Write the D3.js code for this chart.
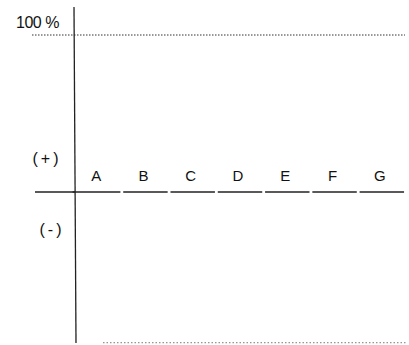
<!DOCTYPE html>
<html>
<head>
<meta charset="utf-8">
<script src="https://cdn.jsdelivr.net/npm/d3@7"></script>
<style>
  body { margin: 0; background: #fff; }
  text { font-family: "Liberation Sans", Arial, sans-serif; fill: #111; }
</style>
</head>
<body>
<div id="chart"></div>
<script>
const FRAME_WIDTH = 409;
const FRAME_HEIGHT = 345;
const MARGINS = {left: 75, right: 4, top: 35, bottom: 153};

// categories along the zero line
const categories = ["A", "B", "C", "D", "E", "F", "G"];
// percent levels for the reference lines
const topLevel = 100;
const bottomLevel = -96;
const topLabel = "100 %";
// sign labels on the left side
const signLabels = ["(+)", "(-)"];
const signValues = [21, -24];

const SVG = d3.select("#chart")
  .append("svg")
    .attr("width", FRAME_WIDTH)
    .attr("height", FRAME_HEIGHT);

// x: one band for each category
const x = d3.scaleBand()
  .domain(categories)
  .range([MARGINS.left, FRAME_WIDTH - MARGINS.right])
  .paddingInner(0.06)
  .paddingOuter(0.02);

// y: percent, zero line at 192
const y = d3.scaleLinear()
  .domain([0, topLevel])
  .range([FRAME_HEIGHT - MARGINS.bottom, MARGINS.top]);

// dotted 100% line
SVG.append("line")
  .attr("x1", 32).attr("x2", FRAME_WIDTH - 4)
  .attr("y1", y(topLevel)).attr("y2", y(topLevel))
  .attr("stroke", "#333")
  .attr("stroke-width", 1)
  .attr("stroke-dasharray", "1.5,1.5");

// dotted bottom line
SVG.append("line")
  .attr("x1", 103).attr("x2", FRAME_WIDTH - 2)
  .attr("y1", y(bottomLevel)).attr("y2", y(bottomLevel))
  .attr("stroke", "#555")
  .attr("stroke-width", 0.8)
  .attr("stroke-dasharray", "1.5,2");

// zero line, left stub before the vertical axis
SVG.append("line")
  .attr("x1", 35).attr("x2", MARGINS.left)
  .attr("y1", y(0)).attr("y2", y(0))
  .attr("stroke", "#222")
  .attr("stroke-width", 1.3);

// zero line split into one segment per category
SVG.append("g")
  .selectAll("line")
  .data(categories)
  .enter()
  .append("line")
    .attr("x1", (d) => x(d) - (d == "A" ? x.step() * 0.07 : 0))
    .attr("x2", (d) => x(d) + x.bandwidth())
    .attr("y1", y(0)).attr("y2", y(0))
    .attr("stroke", "#222")
    .attr("stroke-width", 1.3);

// category labels above the line
SVG.append("g")
  .selectAll("text")
  .data(categories)
  .enter()
  .append("text")
    .attr("x", (d) => x(d) + x.bandwidth() / 2 - 2)
    .attr("y", y(0) - 11)
    .attr("text-anchor", "middle")
    .style("font-size", "15px")
    .text((d) => d);

// vertical axis
SVG.append("line")
  .attr("x1", MARGINS.left - 1).attr("x2", MARGINS.left + 1)
  .attr("y1", 7).attr("y2", 343)
  .attr("stroke", "#222")
  .attr("stroke-width", 1.3);

// 100 % label
SVG.append("text")
  .attr("x", 16)
  .attr("y", y(topLevel) - 7)
  .style("font-size", "16px")
  .style("letter-spacing", "-0.5px")
  .text(topLabel);

// sign labels
SVG.append("g")
  .selectAll("text")
  .data(signLabels)
  .enter()
  .append("text")
    .attr("x", (d, i) => i == 0 ? 47 : 52)
    .attr("y", (d, i) => y(signValues[i]) + 5)
    .attr("text-anchor", "middle")
    .style("font-size", "16px")
    .style("letter-spacing", "3px")
    .text((d) => d);
</script>
</body>
</html>
